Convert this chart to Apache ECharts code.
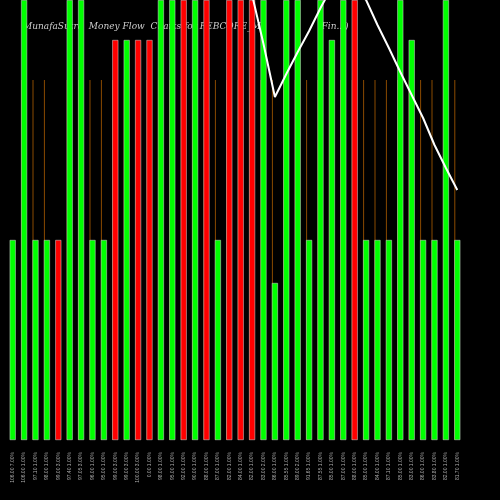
<!DOCTYPE html>
<html>
<head>
<meta charset="utf-8">
<script src="https://cdn.jsdelivr.net/npm/echarts@6/dist/echarts.min.js"></script>
<style>html,body{margin:0;background:#000}#c{width:500px;height:500px}</style>
</head>
<body>
<div id="c"></div>
<script>
// category labels (price and change)
const labels = ["106.00 7.00%","106.00 1.00%","97.10 1.00%","98.00 1.00%","99.00 3.00%","97.40 1.00%","97.05 3.00%","96.00 1.00%","95.00 1.00%","99.00 3.00%","99.00 3.00%","100.00 3.00%","0.00 1.00%","98.00 1.00%","95.00 1.00%","92.00 1.00%","90.00 1.00%","88.00 1.00%","87.00 1.00%","82.00 1.00%","84.00 1.00%","82.00 1.00%","83.00 2.00%","86.00 1.00%","85.55 1.00%","89.00 2.00%","91.65 1.00%","87.55 1.00%","85.00 1.00%","87.00 1.00%","88.00 1.00%","85.00 1.00%","84.00 1.00%","87.10 1.00%","85.00 1.00%","83.00 1.00%","86.00 1.00%","83.80 1.00%","82.00 1.00%","81.70 1.00%"];
// money flow volume per day
const volumes = [200,440,200,200,200,440,440,200,200,400,400,400,400,440,440,440,440,440,200,440,440,440,440,157,440,440,200,440,400,440,440,200,200,200,440,400,200,200,440,200];
// 1 = up (green), 0 = down (red)
const upDay = [1,1,1,1,0,1,1,1,1,0,1,0,0,1,1,0,1,0,1,0,0,0,1,1,1,1,1,1,1,1,0,1,1,1,1,1,1,1,1,1];
// brown reference line height
const refLine = labels.map((l, i) => (i === 0 || i === 4) ? null : 360);
// price line
const price = [null,null,null,null,null,null,null,null,null,null,null,null,null,null,null,null,null,null,null,null,null,445,396,343,366,388,409,432,453,465,450,440,415,392,368,345,322,295,272,250];

const chart = echarts.init(document.getElementById('c'));
chart.setOption({
  backgroundColor: '#000',
  animation: false,
  title: {
    text: 'MunafaSutra  Money Flow  Charts for FEBCORE_M                    (Fin...)',
    left: 18, top: 17, z: 0,
    textStyle: { color: '#ccc', fontSize: 9, fontStyle: 'italic', fontWeight: 'normal', fontFamily: 'DejaVu Serif' }
  },
  grid: { left: 7, right: 37, top: 0, bottom: 60 },
  xAxis: {
    type: 'category', data: labels,
    axisLine: { show: false }, axisTick: { show: false },
    axisLabel: { rotate: 90, color: '#aaa', fontSize: 5, interval: 0, margin: 12 }
  },
  yAxis: { type: 'value', min: 0, max: 440, show: false, splitLine: { show: false } },
  series: [
    { type: 'bar', data: refLine, barWidth: 1, itemStyle: { color: '#8a4a00' }, z: 1 },
    {
      type: 'bar', barWidth: 6, barGap: '-100%', z: 2,
      data: volumes.map((v, i) => ({
        value: v,
        itemStyle: { color: upDay[i] ? '#00ff00' : '#ff0000', borderColor: '#ddd', borderWidth: 0.5 }
      }))
    },
    { type: 'line', data: price, symbol: 'none', z: 3, lineStyle: { color: '#fff', width: 2 } }
  ]
});
</script>
</body>
</html>
